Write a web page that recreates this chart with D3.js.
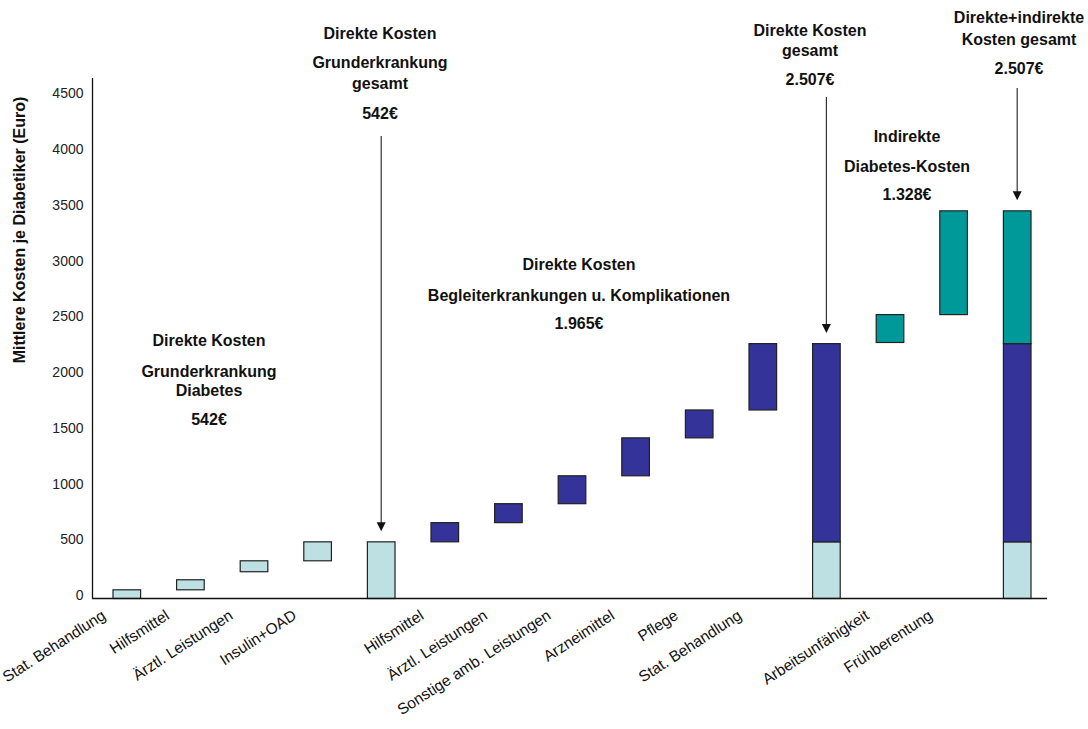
<!DOCTYPE html>
<html>
<head>
<meta charset="utf-8">
<script src="https://cdn.jsdelivr.net/npm/d3@7"></script>
<style>
  html, body { margin: 0; padding: 0; background: #fff; }
  svg { display: block; font-family: "Liberation Sans", Arial, sans-serif; }
</style>
</head>
<body>
<svg id="chart" width="1088" height="729"></svg>
<script>
// ---------- data ----------
const categories = [
  "Stat. Behandlung", "Hilfsmittel", "Ärztl. Leistungen", "Insulin+OAD", "",
  "Hilfsmittel", "Ärztl. Leistungen", "Sonstige amb. Leistungen", "Arzneimittel",
  "Pflege", "Stat. Behandlung", "", "Arbeitsunfähigkeit", "Frühberentung", ""
];
// floating segment bounds (Euro); null = no segment
const grundStart    = [0, 78, 240, 338, 0, null, null, null, null, null, null, 0, null, null, 0];
const grundEnd      = [78, 168, 338, 508, 508, null, null, null, null, null, null, 508, null, null, 508];
const begleitStart  = [null, null, null, null, null, 508, 680, 850, 1100, 1440, 1690, 508, null, null, 508];
const begleitEnd    = [null, null, null, null, null, 680, 850, 1100, 1440, 1690, 2285, 2285, null, null, 2285];
const indirektStart = [null, null, null, null, null, null, null, null, null, null, null, null, 2295, 2545, 2285];
const indirektEnd   = [null, null, null, null, null, null, null, null, null, null, null, null, 2545, 3475, 3475];
const yTicks = [0, 500, 1000, 1500, 2000, 2500, 3000, 3500, 4000, 4500];
const yTitle = "Mittlere Kosten je Diabetiker (Euro)";

// ---------- layout ----------
const svg = d3.select("#chart");
const x = d3.scaleBand().domain(d3.range(categories.length))
  .range([95, 1049]).paddingInner(0.55).paddingOuter(0.275);
const y = d3.scaleLinear().domain([0, 4500]).range([598, 96]);

const colors = { grund: "#bde0e2", begleit: "#333399", indirekt: "#009999" };
const series = [
  { key: "grund", s: grundStart, e: grundEnd },
  { key: "begleit", s: begleitStart, e: begleitEnd },
  { key: "indirekt", s: indirektStart, e: indirektEnd }
];

// bars
series.forEach(ser => {
  const segs = ser.s.map((v, i) => ({ i, lo: v, hi: ser.e[i] })).filter(d => d.lo !== null);
  svg.append("g").selectAll("rect").data(segs).join("rect")
    .attr("x", d => x(d.i) + 0.5)
    .attr("y", d => y(d.hi) + 0.5)
    .attr("width", x.bandwidth() - 1)
    .attr("height", d => y(d.lo) - y(d.hi))
    .attr("fill", colors[ser.key])
    .attr("stroke", "#222")
    .attr("stroke-width", 1.2);
});

// axes
const yAxis = d3.axisLeft(y).tickValues(yTicks).tickSize(0).tickPadding(9).tickFormat(d3.format("d"));
const gy = svg.append("g").attr("transform", "translate(92.5,0)").call(yAxis);
gy.select(".domain").remove();
gy.selectAll("text").attr("font-size", 14).attr("fill", "#222")
  .attr("font-family", "'Liberation Sans', Arial, sans-serif").attr("dy", "0.12em");
svg.append("line").attr("x1", 92.5).attr("x2", 92.5).attr("y1", 78).attr("y2", 598.5)
  .attr("stroke", "#111").attr("stroke-width", 1.3);
svg.append("line").attr("x1", 92).attr("x2", 1047).attr("y1", 598.5).attr("y2", 598.5)
  .attr("stroke", "#111").attr("stroke-width", 1.5);

// x labels
svg.append("g").selectAll("text").data(categories.map((c, i) => ({ c, i })).filter(d => d.c))
  .join("text")
  .attr("transform", d => `translate(${x(d.i) + x.bandwidth() / 2 - 20},618) rotate(-33)`)
  .attr("text-anchor", "end")
  .attr("font-size", 15.5)
  .attr("fill", "#111")
  .text(d => d.c);

// y title
svg.append("text")
  .attr("transform", "translate(25,230) rotate(-90)")
  .attr("text-anchor", "middle")
  .attr("font-size", 16).attr("font-weight", "bold").attr("fill", "#111")
  .text(yTitle);

// annotations
function block(cx, lines) {
  const g = svg.append("g");
  lines.forEach(([t, by]) => {
    g.append("text").attr("x", cx).attr("y", by).attr("text-anchor", "middle")
      .attr("font-size", 16).attr("font-weight", "bold").attr("fill", "#111").text(t);
  });
}
block(209, [["Direkte Kosten", 346], ["Grunderkrankung", 377], ["Diabetes", 396], ["542€", 425]]);
block(380, [["Direkte Kosten", 39], ["Grunderkrankung", 68], ["gesamt", 89], ["542€", 119]]);
block(579, [["Direkte Kosten", 270], ["Begleiterkrankungen u. Komplikationen", 301], ["1.965€", 329]]);
block(810, [["Direkte Kosten", 36], ["gesamt", 56], ["2.507€", 85]]);
block(907, [["Indirekte", 142], ["Diabetes-Kosten", 172], ["1.328€", 200]]);
block(1019, [["Direkte+indirekte", 23], ["Kosten gesamt", 45], ["2.507€", 74]]);

// arrows
function arrow(i, topVal, y0) {
  const cx = x(i) + x.bandwidth() / 2;
  const tip = y(topVal) - 10;
  svg.append("line").attr("x1", cx).attr("x2", cx).attr("y1", y0).attr("y2", tip - 8)
    .attr("stroke", "#333").attr("stroke-width", 1.2);
  svg.append("path").attr("d", `M${cx - 4.5},${tip - 9}L${cx + 4.5},${tip - 9}L${cx},${tip}Z`).attr("fill", "#111");
}
arrow(4, grundEnd[4], 136);
arrow(11, begleitEnd[11], 97);
arrow(14, indirektEnd[14], 88);
</script>
</body>
</html>
